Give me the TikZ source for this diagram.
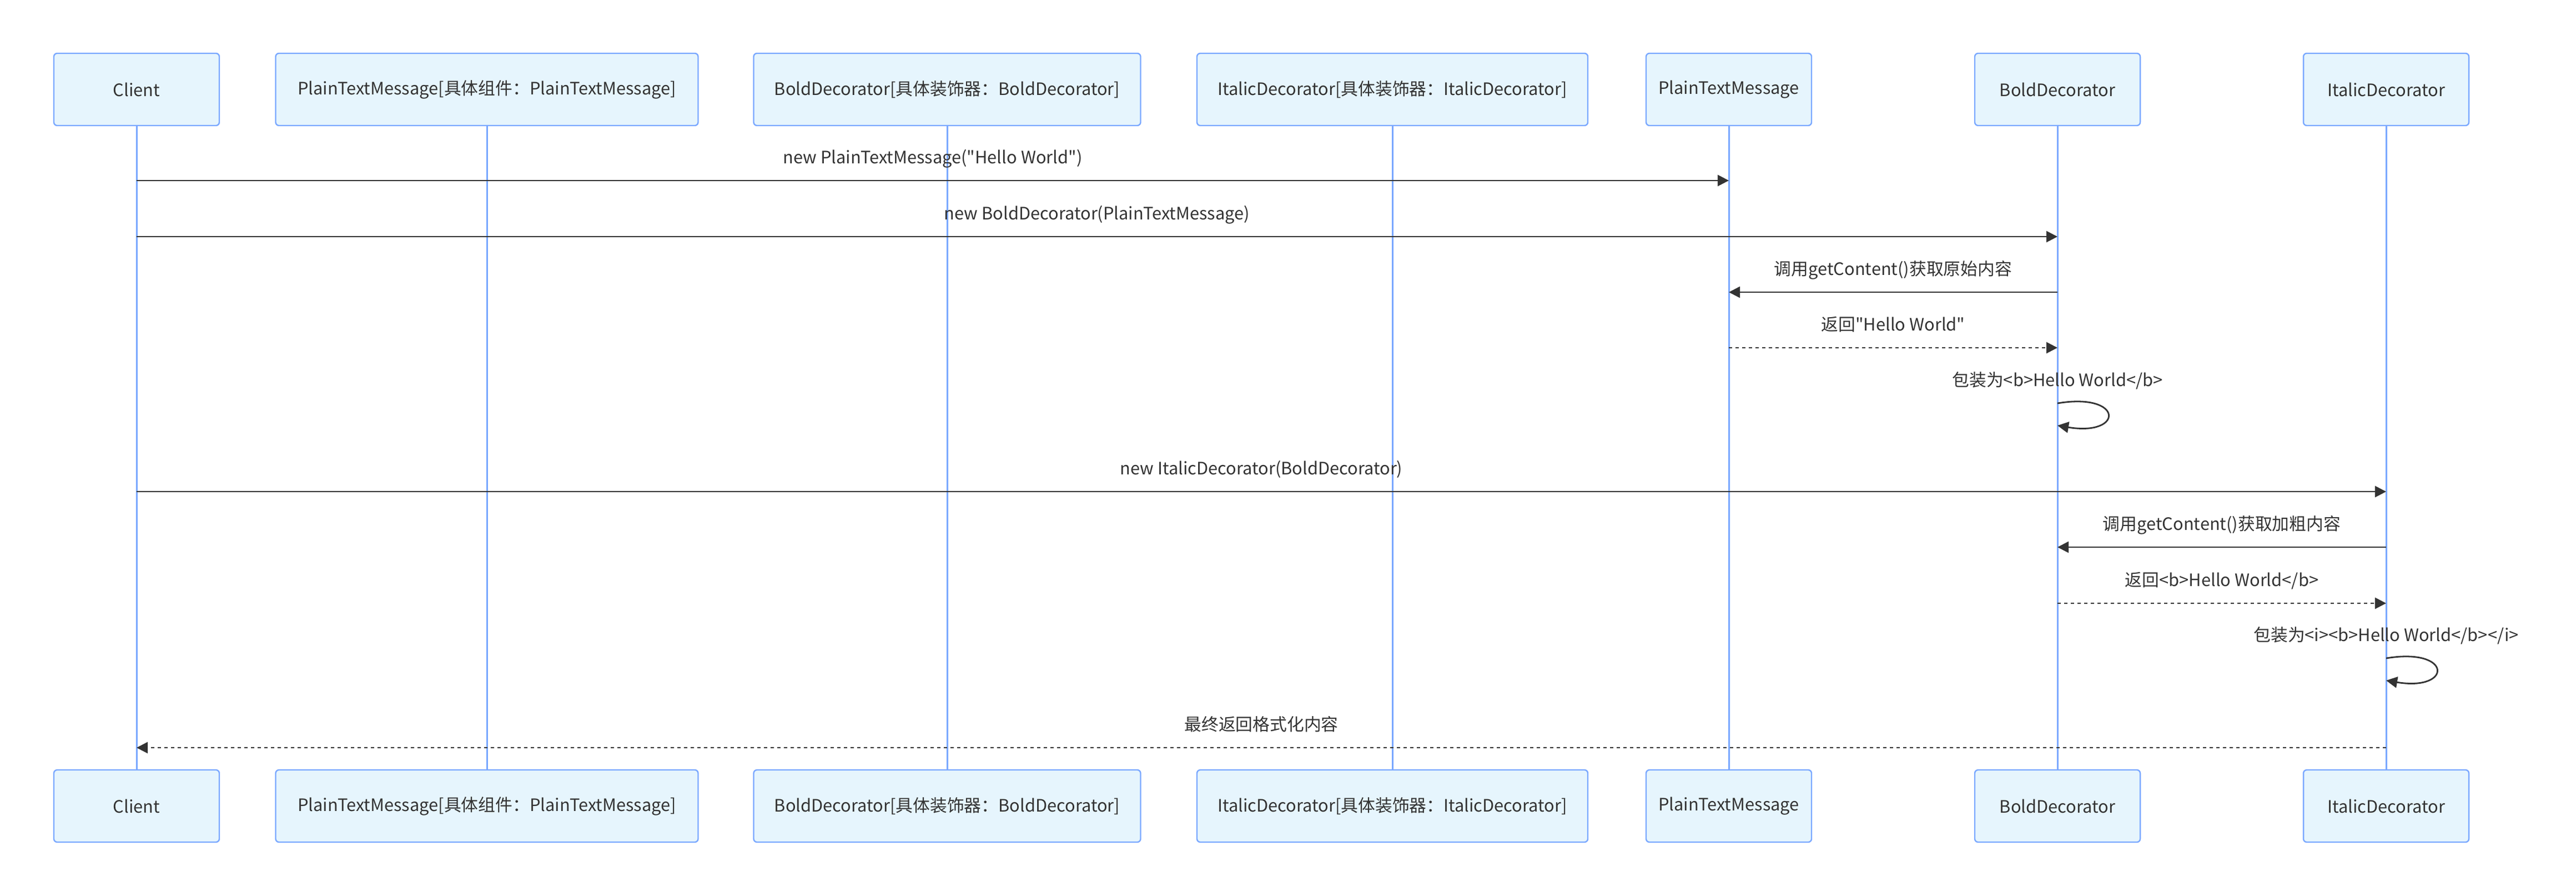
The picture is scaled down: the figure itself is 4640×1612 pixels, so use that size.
\documentclass[tikz,border=0pt]{standalone}
\usepackage{fontspec}
\setmainfont{Noto Sans CJK SC}[Ligatures=TeXOff]
\usetikzlibrary{arrows.meta,backgrounds}
\definecolor{actfill}{HTML}{E6F5FD}
\definecolor{actline}{HTML}{7AA8FF}
\definecolor{msgcol}{HTML}{333333}
\tikzset{
    actor/.style={
           rectangle, rounded corners=3pt,
           draw=actline, line width=1.2pt, fill=actfill,
           minimum height=65pt, minimum width=149pt,
           inner sep=0pt, text=msgcol,
           font=\fontsize{15.4}{18}\selectfont},
    life/.style={
           draw=actline,
           line width=1.5pt},
    msg/.style={
           -{Triangle[length=10pt,width=10pt]},
           draw=msgcol,
           line width=1.4pt},
    ret/.style={
           msg,
           dash pattern=on 3pt off 3pt},
    lbl/.style={
           anchor=base, yshift=15.5pt,
           text=msgcol,
           font=\fontsize{15.4}{18}\selectfont}
}

\begin{document}
\begin{tikzpicture}[x=0.5pt, y=-0.5pt]
        \useasboundingbox (0,0) rectangle (4640,1612);
        % participants, top row
        \node[actor] (client) at (246,161) {Client};
        \node[actor, minimum width=380.5pt] (plainC) at (877,161) {PlainTextMessage[具体组件：PlainTextMessage]};
        \node[actor, minimum width=348.5pt] (boldC) at (1706,161) {BoldDecorator[具体装饰器：BoldDecorator]};
        \node[actor, minimum width=352pt] (italC) at (2508,161) {ItalicDecorator[具体装饰器：ItalicDecorator]};
        \node[actor] (plain) at (3114,161) {PlainTextMessage};
        \node[actor] (bold) at (3706,161) {BoldDecorator};
        \node[actor] (ital) at (4298,161) {ItalicDecorator};
        % participants, bottom row
        \node[actor] (clientB) at (246,1451) {Client};
        \node[actor, minimum width=380.5pt] (plainCB) at (877,1451) {PlainTextMessage[具体组件：PlainTextMessage]};
        \node[actor, minimum width=348.5pt] (boldCB) at (1706,1451) {BoldDecorator[具体装饰器：BoldDecorator]};
        \node[actor, minimum width=352pt] (italCB) at (2508,1451) {ItalicDecorator[具体装饰器：ItalicDecorator]};
        \node[actor] (plainB) at (3114,1451) {PlainTextMessage};
        \node[actor] (boldB) at (3706,1451) {BoldDecorator};
        \node[actor] (italB) at (4298,1451) {ItalicDecorator};
        % lifelines
        \begin{scope}[on background layer]
            \foreach \a in {client, plainC, boldC, italC, plain, bold, ital}
                \draw[life] (\a) -- (\a B);
        \end{scope}
        % messages
        \draw[msg] (client |- 0,325) -- (plain |- 0,325) node[lbl, midway] (l1) {new PlainTextMessage("Hello World")};
        \draw[msg] (client |- 0,426) -- (bold |- 0,426) node[lbl, midway] (l2) {new BoldDecorator(PlainTextMessage)};
        \draw[msg] (bold |- 0,526) -- (plain |- 0,526) node[lbl, midway] (l3) {调用getContent()获取原始内容};
        \draw[ret] (plain |- 0,626) -- (bold |- 0,626) node[lbl, midway] (l4) {返回"Hello World"};
        \node[lbl] (l5) at (bold |- 0,726) {包装为<b>Hello World</b>};
        \draw[msg] (bold |- 0,726) .. controls +(120,-20) and +(120,20) .. (bold |- 0,766);
        \draw[msg] (client |- 0,885) -- (ital |- 0,885) node[lbl, midway] (l6) {new ItalicDecorator(BoldDecorator)};
        \draw[msg] (ital |- 0,985) -- (bold |- 0,985) node[lbl, midway] (l7) {调用getContent()获取加粗内容};
        \draw[ret] (bold |- 0,1086) -- (ital |- 0,1086) node[lbl, midway] (l8) {返回<b>Hello World</b>};
        \node[lbl] (l9) at (ital |- 0,1185) {包装为<i><b>Hello World</b></i>};
        \draw[msg] (ital |- 0,1185) .. controls +(120,-20) and +(120,20) .. (ital |- 0,1225);
        \draw[ret] (ital |- 0,1346) -- (client |- 0,1346) node[lbl, midway] (l10) {最终返回格式化内容};
\end{tikzpicture}
\end{document}
